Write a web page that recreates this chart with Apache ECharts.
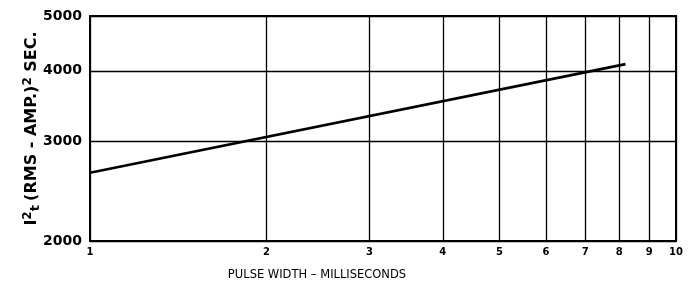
<!DOCTYPE html>
<html><head><meta charset="utf-8">
<script src="https://cdn.jsdelivr.net/npm/echarts@6/dist/echarts.min.js"></script>
<style>html,body{margin:0;padding:0;background:#fff}#c{width:692px;height:286px}</style>
</head><body><div id="c"></div>
<script>
const xTicks = [1, 2, 3, 4, 5, 6, 7, 8, 9, 10];
const yTicks = [2000, 3000, 4000, 5000];
const pulseWidth = [1, 8.2];
const i2t = [2640, 4110];

const chart = echarts.init(document.getElementById('c'), null, {renderer: 'canvas'});
chart.setOption({
  backgroundColor: '#fff',
  animation: false,
  grid: {left: 90, right: 16, top: 16, bottom: 44, show: true, borderColor: '#000', borderWidth: 2},
  xAxis: {
    type: 'log', logBase: 10, min: 1, max: 10,
    name: 'PULSE WIDTH – MILLISECONDS', nameLocation: 'middle', nameGap: 28,
    nameTextStyle: {fontFamily: 'DejaVu Sans', fontSize: 11.5, color: '#000', padding: [0, 132, 0, 0]},
    axisLine: {lineStyle: {color: '#000', width: 2}},
    axisTick: {show: false, customValues: xTicks},
    axisLabel: {customValues: xTicks, margin: 6, fontFamily: 'DejaVu Sans', fontWeight: 'bold', fontSize: 10, color: '#000',
      formatter: v => String(v)},
    splitLine: {show: true, lineStyle: {color: '#000', width: 1.3}}
  },
  yAxis: {
    type: 'log', logBase: 10, min: 2000, max: 5000,
    name: '{b|I}{s|2}{t|t} {b|(RMS - AMP.)}{s|2}{b| SEC.}', nameLocation: 'middle', nameGap: 48, nameRotate: 90,
    nameMoveOverlap: false,
    nameTextStyle: {fontFamily: 'DejaVu Sans', fontWeight: 'bold', color: '#000',
      rich: {
        b: {fontFamily: 'DejaVu Sans', fontWeight: 'bold', fontSize: 16, color: '#000'},
        s: {fontFamily: 'DejaVu Sans', fontWeight: 'bold', fontSize: 12, color: '#000', verticalAlign: 'top', padding: [0, 0, 8, 0]},
        t: {fontFamily: 'DejaVu Sans', fontWeight: 'bold', fontSize: 13, color: '#000', verticalAlign: 'bottom', padding: [6, 0, 0, 0]}
      }},
    axisLine: {lineStyle: {color: '#000', width: 2}},
    axisTick: {show: false, customValues: yTicks},
    axisLabel: {customValues: yTicks, margin: 8, fontFamily: 'DejaVu Sans', fontWeight: 'bold', fontSize: 14, color: '#000',
      formatter: v => String(v)},
    splitLine: {show: true, lineStyle: {color: '#000', width: 1.3}}
  },
  series: [{
    type: 'line', data: pulseWidth.map((x, i) => [x, i2t[i]]),
    symbol: 'none', lineStyle: {color: '#000', width: 2.6}
  }]
});
</script></body></html>
